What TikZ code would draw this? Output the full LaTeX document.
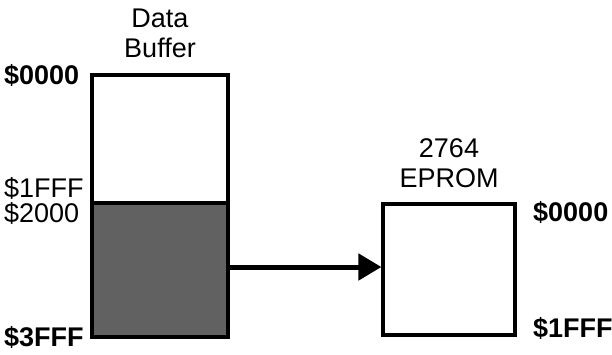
\documentclass[tikz,border=0pt]{standalone}
\usepackage{fontspec}
\setmainfont{Liberation Sans}
\usetikzlibrary{arrows.meta}
\begin{document}
\begin{tikzpicture}[x=1pt,y=-1pt,
  lbl/.style={font=\fontsize{27}{29}\selectfont, inner sep=0pt, anchor=west},
  blbl/.style={lbl, font=\fontsize{27}{29}\selectfont\bfseries},
  title/.style={font=\fontsize{27}{30}\selectfont, align=center, inner sep=0pt},
  boxline/.style={line width=3.2pt}]
\useasboundingbox (0,0) rectangle (612,354);
% Data buffer
\coordinate (btl) at (92,75);
\coordinate (bmr) at (228,203);
\coordinate (bml) at (92,203);
\coordinate (bbr) at (228,337);
\fill[black!62] (bml) rectangle (bbr);
\draw[boxline] (btl) rectangle (bbr);
\draw[boxline] (bml) -- (bmr);
\node[title] (bt) at (160,33) {Data\\Buffer};
% EPROM
\node[draw, line width=3.2pt, minimum width=132pt, minimum height=131pt, inner sep=0pt] (ep) at (449,269.5) {};
\node[title] (et) at (449,163) {2764\\EPROM};
% arrow
\coordinate (as) at (228,267);
\draw[line width=5pt, -{Triangle[length=23pt,width=26pt]}] (as) -- (as -| ep.west);
% labels
\node[blbl] (l0) at (4,75) {\$0000};
\node[lbl] (l1) at (4,188) {\$1FFF};
\node[lbl] (l2) at (4,213) {\$2000};
\node[blbl] (l3) at (4,337) {\$3FFF};
\node[blbl] (r0) at (533,212) {\$0000};
\node[blbl] (r1) at (533,328) {\$1FFF};
\end{tikzpicture}
\end{document}
